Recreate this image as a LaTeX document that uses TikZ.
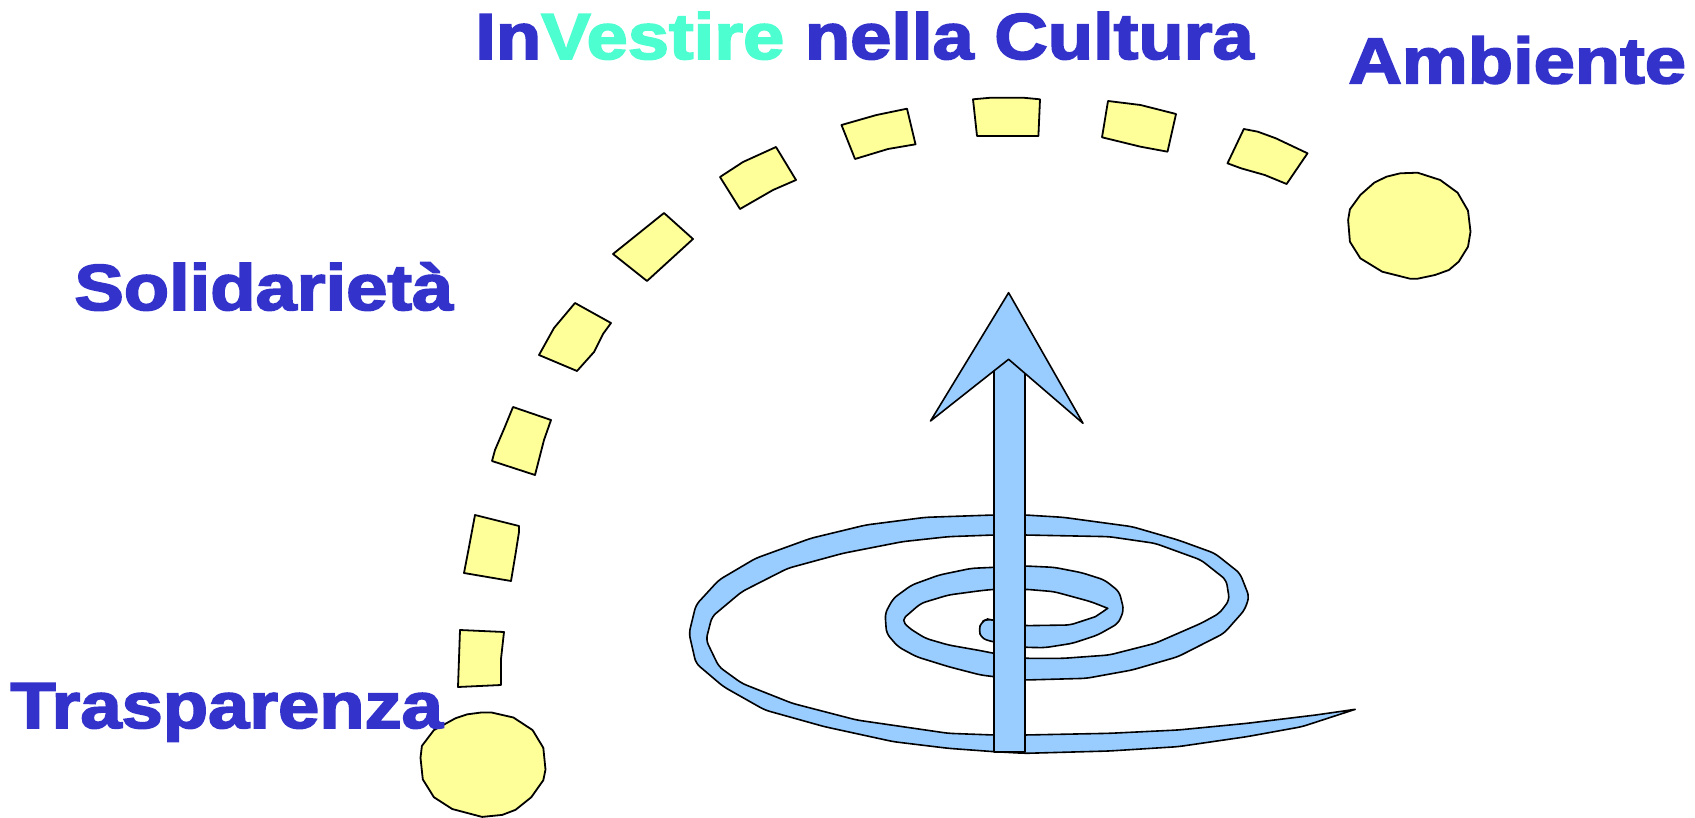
\documentclass[tikz,border=0pt]{standalone}
\usepackage{fontspec}
\usepackage{graphicx}
\newfontfamily\hv{Liberation Sans}[BoldFeatures={FakeBold=2.5}]
\definecolor{txtblue}{RGB}{51,51,204}
\definecolor{tealtxt}{RGB}{77,255,208}
\definecolor{dashyellow}{RGB}{255,255,153}
\definecolor{spiralblue}{RGB}{153,204,255}
\tikzset{
  lbl/.style={font=\hv\bfseries\fontsize{32.5}{34}\selectfont, text=txtblue, inner sep=0pt, anchor=base west},
  blob/.style={draw=black, fill=dashyellow, line width=0.9pt, line join=round},
  band/.style={draw=black, fill=spiralblue, line width=0.8pt, line join=round},
}
\begin{document}
\begin{tikzpicture}[x=0.5pt,y=-0.5pt]
\useasboundingbox (0,0) rectangle (1695,818);
% dashed arc pieces
\draw[blob] (460,630) -- (504,632) -- (501,659) -- (501,685) -- (458,687) -- cycle;
\draw[blob] (475,515) -- (519,526) -- (519,532) -- (516,551) -- (511,581) -- (464,573) -- (469,547) -- cycle;
\draw[blob] (513,407) -- (551,420) -- (544,440) -- (535,475) -- (492,461) -- (495,450) -- (504,429) -- cycle;
\draw[blob] (575,303) -- (611,323) -- (603,334) -- (594,352) -- (577,371) -- (539,355) -- (554,328) -- cycle;
\draw[blob] (613,254) -- (664,213) -- (693,239) -- (647,281) -- cycle;
\draw[blob] (720,177) -- (743,162) -- (776,147) -- (796,180) -- (773,190) -- (740,209) -- cycle;
\draw[blob] (841.5,125) -- (876.5,115) -- (907,108.7) -- (915.5,144.3) -- (888,149) -- (855,159) -- cycle;
\draw[blob] (973,99.3) -- (991,97.7) -- (1023,97.7) -- (1040,99.3) -- (1038.4,136) -- (977,136) -- cycle;
\draw[blob] (1108,101) -- (1140.5,105) -- (1176,114) -- (1167.5,151.7) -- (1140.5,146.7) -- (1102,137.3) -- cycle;
\draw[blob] (1243.8,129) -- (1257.8,131.7) -- (1275.8,138.3) -- (1307.5,153.3) -- (1286.6,184) -- (1264.7,175) -- (1241,168.3) -- (1227.5,163.3) -- cycle;
% circles
\draw[blob] (482.1,712.4) -- (491.1,712.4) -- (513.4,717.5) -- (532.6,730.1) -- (543.3,747.8) -- (545.5,769.6) -- (543.3,780.2) -- (531.3,797.2) -- (515.6,809.8) -- (502.2,814.9) -- (482.1,816.9) -- (452.2,809) -- (433.9,797.2) -- (422.8,779.4) -- (420.5,757.8) -- (421.9,745.9) -- (433.9,730.1) -- (455.4,718.3) -- (467.4,714.3) -- cycle;
\draw[blob] (1400.3,173.3) -- (1417.6,172.7) -- (1440.2,180) -- (1457.6,192.7) -- (1468,210.7) -- (1470.5,231.7) -- (1468,246.7) -- (1458.7,261.7) -- (1448.9,270) -- (1435,275) -- (1417.6,278.7) -- (1410,278.7) -- (1382.2,271.7) -- (1360.3,258.3) -- (1349.9,241.7) -- (1348.1,220) -- (1349.9,209.3) -- (1360.3,195) -- (1374.2,182.7) -- (1386.4,176.7) -- cycle;
% spiral band
\begin{scope}[shift={(650,280)}, xscale=0.45914, yscale=0.33333]
\draw[band, rounded corners=2.5pt] (745,1085) -- (817,1102) -- (860,1103) -- (920,1090) -- (975,1065) -- (1020,1030) -- (1032,990) -- (1022,935) -- (990,900) -- (940,878) -- (880,862) -- (817,858) -- (749,862) -- (700,865) -- (630,885) -- (570,915) -- (530,955) -- (512,1000) -- (515,1060) -- (540,1100) -- (580,1130) -- (650,1160) -- (720,1185) -- (749,1190) -- (817,1200) -- (950,1195) -- (1050,1170) -- (1150,1130) -- (1250,1060) -- (1295,990) -- (1305,950) -- (1285,880) -- (1230,820) -- (1150,780) -- (1050,740) -- (900,712) -- (817,705) -- (749,705) -- (600,712) -- (470,735) -- (350,775) -- (230,835) -- (150,900) -- (100,975) -- (85,1060) -- (100,1150) -- (160,1220) -- (250,1290) -- (380,1340) -- (530,1385) -- (650,1405) -- (749,1415) -- (817,1420) -- (1000,1413) -- (1150,1400) -- (1300,1370) -- (1420,1340) [sharp corners] -- (1536,1288)
 -- (1450,1305) [rounded corners=2.5pt] -- (1300,1330) -- (1150,1350) -- (1000,1360) -- (817,1365) -- (749,1365) -- (650,1360) -- (450,1320) -- (310,1270) -- (200,1210) -- (150,1160) -- (122,1080) -- (135,1010) -- (200,935) -- (300,865) -- (420,820) -- (550,785) -- (650,770) -- (749,765) -- (817,765) -- (1000,770) -- (1100,790) -- (1200,840) -- (1255,900) -- (1262,960) -- (1240,1000) -- (1200,1030) -- (1100,1090) -- (1000,1125) -- (900,1135) -- (817,1135) -- (749,1120) -- (720,1112) -- (650,1095) -- (600,1075) -- (565,1045) -- (548,1020) -- (590,970) -- (650,945) -- (720,932) -- (749,928) -- (820,928) -- (880,935) -- (960,965) [sharp corners] -- (997,985) -- (970,1010) [rounded corners=2.5pt] -- (915,1035) -- (817,1037) -- (745,1020) -- (735,1017) -- (722,1025) -- (716,1050) -- (722,1075) -- cycle;
\end{scope}
% arrow
\draw[band] (993.9,340) rectangle (1025.1,751.7);
\draw[band] (1008.6,292.7) -- (1083,423.3) -- (1008.6,359.3) -- (930.5,421) -- cycle;
% texts
\node[lbl] (title) at (475,59) {\scalebox{1.14}[1]{In\textcolor{tealtxt}{Vestire} nella Cultura}};
\node[lbl] (amb) at (1348,83.3) {\scalebox{1.14}[1]{Ambiente}};
\node[lbl] (sol) at (74,310) {\scalebox{1.14}[1]{Solidarietà}};
\node[lbl] (tra) at (10,728) {\scalebox{1.14}[1]{Trasparenza}};
\end{tikzpicture}
\end{document}
